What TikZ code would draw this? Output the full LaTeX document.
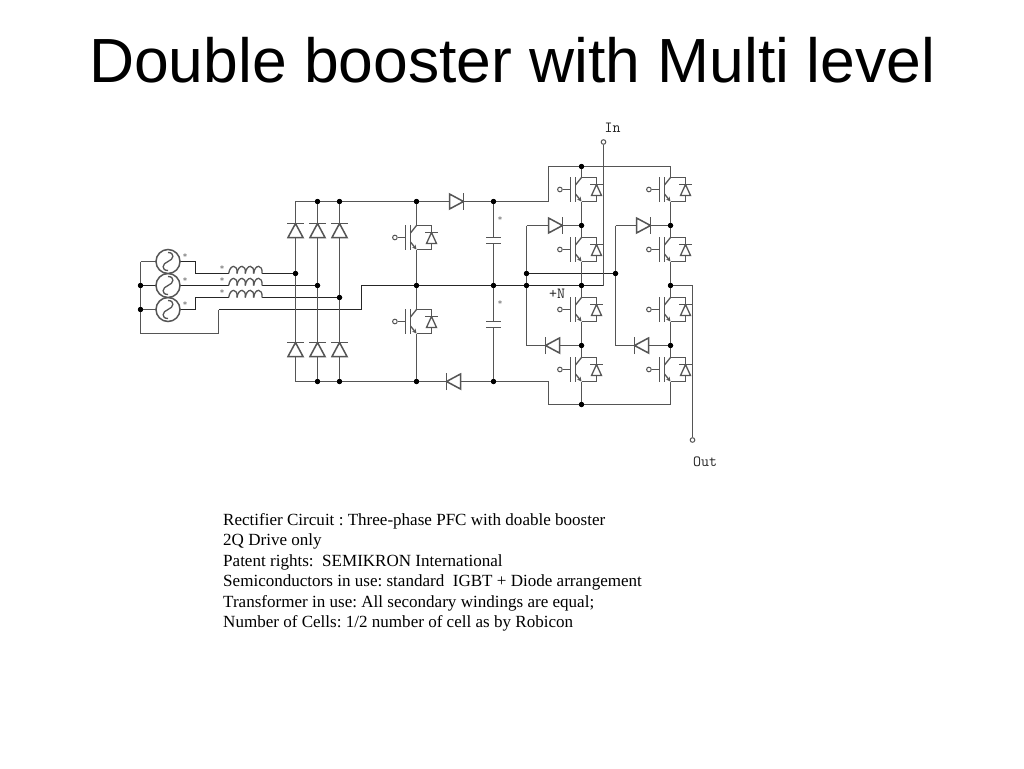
\documentclass[tikz,border=0pt]{standalone}
\usepackage{fontspec}
\setmainfont{Liberation Serif}
\newfontfamily\titlefont{Liberation Sans}
\setmonofont{Latin Modern Mono}
\usetikzlibrary{arrows.meta}
\definecolor{wiregray}{HTML}{555555}
\tikzset{
  wire/.style={draw=wiregray,line width=1.5pt,line join=miter},
  hot/.style={draw=black!85,line width=1.35pt,line join=miter},
  thin wire/.style={draw=wiregray,line width=1.3pt},
  junction/.style={circle,fill=black,inner sep=0pt,minimum size=5.2pt},
  term/.style={circle,draw=wiregray,fill=white,line width=1pt,inner sep=0pt,minimum size=4.6pt},
  ttl/.style={anchor=base west,inner sep=0pt,font=\titlefont\fontsize{62.4}{62.4}\selectfont},
  body/.style={anchor=base west,inner sep=0pt,font=\frenchspacing\fontsize{17.05}{17.05}\selectfont},
  pin/.style={anchor=base,inner sep=0pt,font=\ttfamily\fontsize{15.5}{15.5}\selectfont,text=black!85},
  mark star/.style={inner sep=0pt,font=\ttfamily\fontsize{9.5}{9.5}\selectfont,text=black!50},
  diode/.pic={
    \path[wire,fill=white] (-7,-7.5) -- (7,0) -- (-7,7.5) -- cycle;
    \path[wire] (7,-8.5) -- (7,8.5);
  },
  igbt/.pic={
    \coordinate (-c) at (0,-12);
    \coordinate (-e) at (0,12);
    \node[term] (-g) at (-21.6,0) {};
    \path[thin wire] (-g) -- (-11,0);
    \path[thin wire] (-11,-12.5) -- (-11,12.5);
    \path[thin wire] (-6,-12.5) -- (-6,12.5);
    \path[thin wire] (-6,-4.5) -- (-c);
    \path[thin wire,-{Stealth[length=4.5pt,width=4.5pt]}] (-6,4.5) -- (-e);
    \path[wire] (-c) -- (15,-12) -- (15,12) -- (-e);
    \path[thin wire,fill=white] (15,-5) -- (10,6) -- (20,6) -- cycle;
    \path[thin wire] (8.5,-5) -- (21.5,-5);
  },
  coil/.pic={
    \foreach \k in {0,1,2,3}{
      \path[thin wire] (\k*8.3,0) .. controls (\k*8.3+1.2,-9.5) and (\k*8.3+9.5,-9.5) .. (\k*8.3+8.3,0);
    }
  },
  source/.pic={
    \path[wire,fill=white] (0,0) circle (12);
    \path[thin wire] (0,-9) .. controls (7,-9) and (6,-2) .. (0,0) .. controls (-6,2) and (-7,9) .. (0,9);
  }
}
\begin{document}
\begin{tikzpicture}[x=1pt,y=-1pt]
\useasboundingbox (0,0) rectangle (1024,768);
\fill[white] (0,0) rectangle (1024,768);

% named junctions and corners (snapped to pixel centres)
\coordinate (SA) at (168,261.5);
\coordinate (SB) at (168,285.5);
\coordinate (SC) at (168,309.5);
\coordinate (LT) at (140.5,261.5);
\node[junction] (LB) at (140.5,285.5) {};
\node[junction] (LC) at (140.5,309.5) {};
\coordinate (LD) at (140.5,333.5);
\coordinate (RD) at (218.5,333.5);
\coordinate (RE) at (218.5,309.5);
\coordinate (NK) at (361.5,309.5);
\coordinate (NL) at (361.5,285.5);
\coordinate (A1) at (195.5,261.5);
\coordinate (A2) at (195.5,273.5);
\coordinate (C1) at (195.5,309.5);
\coordinate (C2) at (195.5,297.5);
\node[junction] (PA) at (295.5,273.5) {};
\node[junction] (PB) at (317.5,285.5) {};
\node[junction] (PC) at (339.5,297.5) {};
\coordinate (TA) at (295.5,201.5);
\node[junction] (TB) at (317.5,201.5) {};
\node[junction] (TC) at (339.5,201.5) {};
\node[junction] (TD) at (416.5,201.5) {};
\node[junction] (TE) at (493.5,201.5) {};
\coordinate (TF) at (548.5,201.5);
\coordinate (TG) at (548.5,166.5);
\node[junction] (TH) at (581.5,166.5) {};
\coordinate (TI) at (670.5,166.5);
\coordinate (BA) at (295.5,381.5);
\node[junction] (BB) at (317.5,381.5) {};
\node[junction] (BC) at (339.5,381.5) {};
\node[junction] (BD) at (416.5,381.5) {};
\node[junction] (BE) at (493.5,381.5) {};
\coordinate (BF) at (548.5,381.5);
\coordinate (BG) at (548.5,404.5);
\node[junction] (BH) at (581.5,404.5) {};
\coordinate (BI) at (670.5,404.5);
\node[junction] (MD) at (416.5,285.5) {};
\node[junction] (ME) at (493.5,285.5) {};
\node[junction] (MF) at (526.5,285.5) {};
\node[junction] (NF) at (526.5,273.5) {};
\node[junction] (NG) at (615.5,273.5) {};
\coordinate (UF) at (526.5,225.5);
\coordinate (LF) at (526.5,345.5);
\coordinate (UG) at (615.5,225.5);
\coordinate (LG) at (615.5,345.5);
\node[junction] (J1) at (581.5,225.5) {};
\node[junction] (J2) at (581.5,285.5) {};
\node[junction] (J3) at (581.5,345.5) {};
\node[junction] (K1) at (670.5,225.5) {};
\node[junction] (K2) at (670.5,285.5) {};
\node[junction] (K3) at (670.5,345.5) {};
\coordinate (InC) at (603.5,285.5);
\coordinate (OutC) at (692.5,285.5);
\node[term] (InT) at (603.5,142) {};
\node[term] (OutT) at (692.5,440) {};

% devices' terminals are created first so wires can name them
\pic (Q1) at (416.5,237.5) {igbt};
\pic (Q2) at (416.5,321.5) {igbt};
\pic (U1) at (581.5,189.5) {igbt};
\pic (U2) at (581.5,249.5) {igbt};
\pic (U3) at (581.5,309.5) {igbt};
\pic (U4) at (581.5,369.5) {igbt};
\pic (V1) at (670.5,189.5) {igbt};
\pic (V2) at (670.5,249.5) {igbt};
\pic (V3) at (670.5,309.5) {igbt};
\pic (V4) at (670.5,369.5) {igbt};

% wires
\path[wire] (LT) -- (LD) -- (RD) -- (RE);
\path[hot] (RE) -- (NK) -- (NL) -- (MF);
\path[wire] (LT) -- (SA);
\path[hot] (LB) -- (PB);
\path[wire] (LC) -- (SC);
\path[hot] (SA) -- (A1) -- (A2) -- (PA);
\path[hot] (SC) -- (C1) -- (C2) -- (PC);
\path[wire] (TI) -- (TG) -- (TF) -- (TA) -- (BA) -- (BF) -- (BG) -- (BI);
\path[wire] (TB) -- (BB);
\path[wire] (TC) -- (BC);
\path[wire] (TD) -- (Q1-c) (Q1-e) -- (Q2-c) (Q2-e) -- (BD);
\path[wire] (TE) -- (BE);
\path[wire] (UF) -- (LF);
\path[wire] (UF) -- (J1);
\path[wire] (UG) -- (K1);
\path[wire] (UG) -- (LG);
\path[wire] (LF) -- (J3);
\path[wire] (LG) -- (K3);
\path[hot] (NF) -- (NG);
\path[hot] (MF) -- (InC);
\path[wire] (InC) -- (InT);
\path[wire] (TH) -- (U1-c) (U1-e) -- (U2-c) (U2-e) -- (U3-c) (U3-e) -- (U4-c) (U4-e) -- (BH);
\path[wire] (TI) -- (V1-c) (V1-e) -- (V2-c) (V2-e) -- (V3-c) (V3-e) -- (V4-c) (V4-e) -- (BI);
\path[wire] (K2) -- (OutC) -- (OutT);

% redraw items that sit on top of wires
\path[fill=white] (228.7,265) rectangle (262,299);
\pic at (228.7,273.5) {coil};
\pic at (228.7,285.5) {coil};
\pic at (228.7,297.5) {coil};
\pic at (SC) {source};
\pic at (SB) {source};
\pic at (SA) {source};

\pic[rotate=90] at (295.5,230.5) {diode};
\pic[rotate=90] at (317.5,230.5) {diode};
\pic[rotate=90] at (339.5,230.5) {diode};
\pic[rotate=90] at (295.5,349.5) {diode};
\pic[rotate=90] at (317.5,349.5) {diode};
\pic[rotate=90] at (339.5,349.5) {diode};
\pic at (456.5,201.5) {diode};
\pic[rotate=180] at (453.5,381.5) {diode};
\pic at (555.5,225.5) {diode};
\pic at (643.5,225.5) {diode};
\pic[rotate=180] at (552.5,345.5) {diode};
\pic[rotate=180] at (641.5,345.5) {diode};

% capacitors
\path[fill=white] (485,237.5) rectangle (502,243.5);
\path[fill=white] (485,321.5) rectangle (502,327.5);
\path[wire] (486,237.5) -- (501,237.5) (486,243.5) -- (501,243.5);
\path[wire] (486,321.5) -- (501,321.5) (486,327.5) -- (501,327.5);

% re-stack junction dots
\foreach \j in {LB,LC,PA,PB,PC,TB,TC,TD,TE,TH,BB,BC,BD,BE,BH,MD,ME,MF,NF,NG,J1,J2,J3,K1,K2,K3}
  \fill (\j) circle (2.6);

% labels
\node[ttl] (title) at (89,82) {Double booster with Multi level};
\node[pin] (inlabel) at (612.5,132) {In};
\node[pin] (outlabel) at (705,466) {Out};
\node[pin] (nlabel) at (557,298) {+N};
\foreach \n/\x/\y in {s1/185/256.5,s2/185/280,s3/185/304,c1/222/268,c2/222/280,c3/222/292,k1/500/219,k2/500/303}
  \node[mark star] (\n) at (\x,\y) {*};
\node[body] (d1) at (223,525.5) {Rectifier Circuit : Three-phase PFC with doable booster};
\node[body] (d2) at (223,545.5) {2Q Drive only};
\node[body] (d3) at (223,566) {Patent rights:~ SEMIKRON International};
\node[body] (d4) at (223,586.5) {Semiconductors in use: standard~ IGBT + Diode arrangement};
\node[body] (d5) at (223,607) {Transformer in use: All secondary windings are equal;};
\node[body] (d6) at (223,627.5) {Number of Cells: 1/2 number of cell as by Robicon};
\end{tikzpicture}
\end{document}
